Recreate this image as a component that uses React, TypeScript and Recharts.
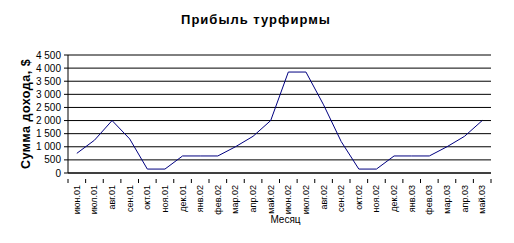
import React from 'react';
import { LineChart, Line, XAxis, YAxis, CartesianGrid } from 'recharts';

// months along the x axis
const months = [
    'июн.01', 'июл.01', 'авг.01', 'сен.01', 'окт.01', 'ноя.01', 'дек.01', 'янв.02',
    'фев.02', 'мар.02', 'апр.02', 'май.02', 'июн.02', 'июл.02', 'авг.02', 'сен.02',
    'окт.02', 'ноя.02', 'дек.02', 'янв.03', 'фев.03', 'мар.03', 'апр.03', 'май.03',
];

// income per month, $
const income = [
    750, 1250, 2000, 1300, 150, 150, 650, 650,
    650, 1000, 1400, 2000, 3850, 3850, 2600, 1200,
    150, 150, 650, 650, 650, 1000, 1400, 2000,
];

const yTicks = [0, 500, 1000, 1500, 2000, 2500, 3000, 3500, 4000, 4500];

const data = months.map((m, i) => ({ month: m, value: income[i] }));

const FONT = 'Arial, "Liberation Sans", sans-serif';
const STEP = 423 / months.length; // width of one category band

// label rotated, plus tick mark at the band boundary
const MonthTick = (props: any) => {
    const { x, y, payload, index } = props;
    const left = x - STEP / 2;
    return (
        <g>
            <line x1={left} y1={y - 6} x2={left} y2={y - 2} stroke="#000" />
            {index === months.length - 1 && (
                <line x1={x + STEP / 2} y1={y - 6} x2={x + STEP / 2} y2={y - 2} stroke="#000" />
            )}
            <text
                x={x}
                y={y}
                transform={`rotate(-90, ${x}, ${y})`}
                textAnchor="end"
                dominantBaseline="central"
                fontSize={9}
                fontFamily={FONT}
                fill="#000"
            >
                {payload.value}
            </text>
        </g>
    );
};

export default function App() {
    return (
        <div style={{ position: 'absolute', left: 0, top: 0, width: 514, height: 243, background: '#fff' }}>
            <LineChart width={514} height={243} data={data} margin={{ top: 55, right: 23, left: 0, bottom: 0 }}>
                <text x={256} y={24} textAnchor="middle" fontSize={13} fontWeight="bold" fontFamily={FONT} letterSpacing={1} fill="#000">
                    Прибыль турфирмы
                </text>
                <CartesianGrid vertical={false} stroke="#000" />
                <XAxis
                    dataKey="month"
                    interval={0}
                    height={70}
                    padding={{ left: STEP / 2, right: STEP / 2 }}
                    axisLine={{ stroke: '#000' }}
                    tickLine={false}
                    tick={<MonthTick />}
                    tickMargin={6}
                    label={{ value: 'Месяц', position: 'insideBottom', offset: 20, fontSize: 10, fontFamily: FONT, fill: '#000', dx: 6 }}
                />
                <YAxis
                    width={68}
                    domain={[0, 4500]}
                    ticks={yTicks}
                    interval={0}
                    tickSize={4}
                    tickMargin={3}
                    axisLine={{ stroke: '#000' }}
                    tickLine={{ stroke: '#000' }}
                    tick={{ fontSize: 10, fontFamily: FONT, fill: '#000' }}
                    tickFormatter={(v: number) => (v >= 1000 ? `${Math.floor(v / 1000)} ${String(v % 1000).padStart(3, '0')}` : `${v}`)}
                    label={{ value: 'Сумма дохода, $', angle: -90, position: 'insideLeft', offset: 26, fontSize: 12.5, fontWeight: 'bold', fontFamily: FONT, fill: '#000', letterSpacing: 0.5, style: { textAnchor: 'middle' } }}
                />
                <Line type="linear" dataKey="value" stroke="#000080" strokeWidth={1} dot={false} isAnimationActive={false} />
            </LineChart>
        </div>
    );
}
